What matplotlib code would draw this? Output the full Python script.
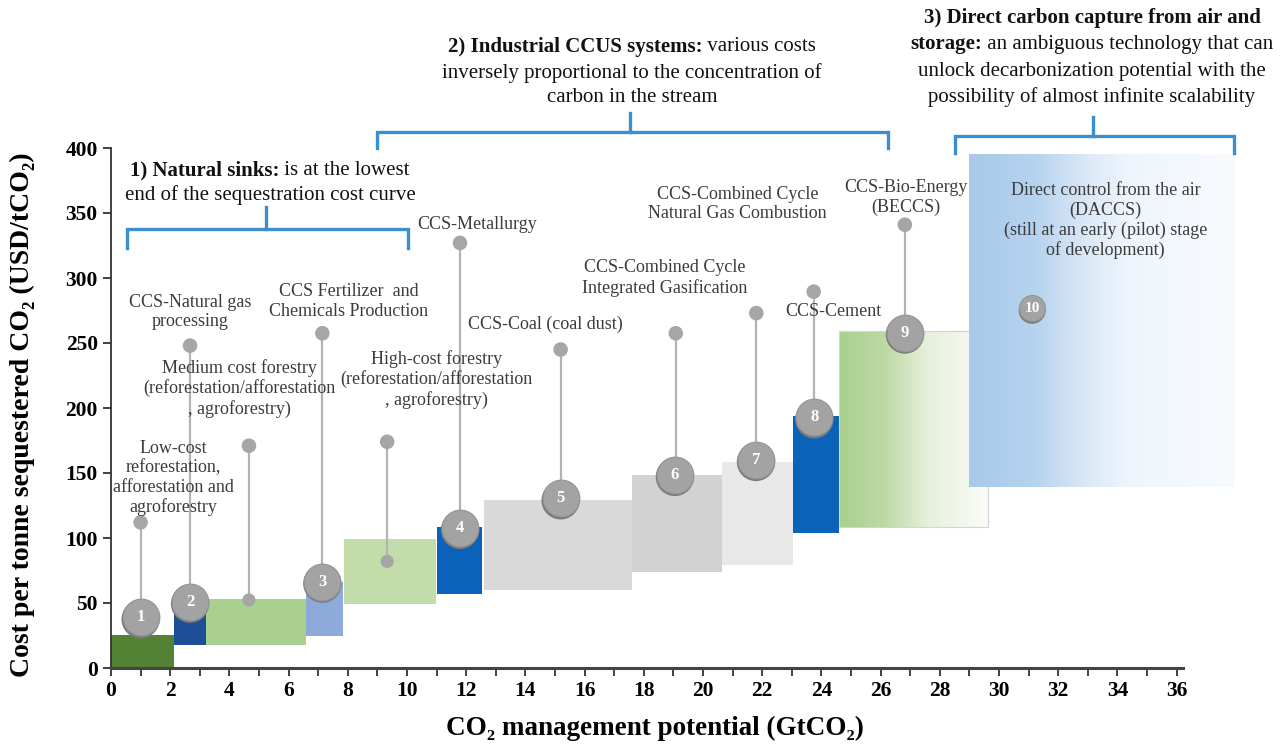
import matplotlib
matplotlib.use("Agg")
import matplotlib.pyplot as plt
import numpy as np
from matplotlib.colors import LinearSegmentedColormap
from matplotlib.patches import Rectangle
from matplotlib.ticker import FixedLocator
from matplotlib.transforms import offset_copy

plt.rcParams["font.family"] = ["Liberation Serif", "DejaVu Serif"]

# cost-curve blocks: potential range (GtCO2) and cost range (USD/tCO2)
block_x0 = [0.0, 2.13, 3.2, 6.59, 7.87, 11.0, 12.6, 17.6, 20.63, 23.03, 24.6, 29.0]
block_x1 = [2.13, 3.2, 6.59, 7.84, 10.98, 12.54, 17.6, 20.63, 23.05, 24.6, 29.63, 37.97]
block_lo = [0, 17.7, 17.7, 24.6, 49, 57, 60, 74, 79, 103.6, 108.5, 139]
block_hi = [25.4, 46, 53, 66, 99, 108.7, 129, 148.5, 158.7, 194, 259, 394.6]
block_col = ["#548235", "#1f4e98", "#a9d08e", "#8eaadb", "#c2dda9", "#0a63b8",
             "#d9d9d9", "#d2d2d2", "#e8e8e8", "#0a63b8", None, None]

# numbered markers
num_x = [1.0, 2.67, 7.14, 11.79, 15.19, 19.05, 21.79, 23.76, 26.82, 31.12]
num_y = [39, 51, 66.4, 107.7, 130.5, 148.5, 160, 192.8, 258, 276.7]

# leader stems (x, bottom, top)
stem_x = [1.0, 2.67, 4.66, 7.14, 9.33, 11.79, 15.19, 19.08, 21.8, 23.74, 26.82]
stem_lo = [39, 51, 52.3, 66.4, 82, 107.7, 130.5, 148.5, 160, 192.8, 258]
stem_hi = [112, 248, 171, 257.5, 174, 327, 245, 257.5, 273, 289.5, 341]
stem_lowdot = [False, False, True, False, True, False, False, False, False, False, False]

labels = [
    "Low-cost\nreforestation,\nafforestation and\nagroforestry",
    "CCS-Natural gas\nprocessing",
    "Medium cost forestry\n(reforestation/afforestation\n, agroforestry)",
    "CCS Fertilizer  and\nChemicals Production",
    "High-cost forestry\n(reforestation/afforestation\n, agroforestry)",
    "CCS-Metallurgy",
    "CCS-Coal (coal dust)",
    "CCS-Combined Cycle\nIntegrated Gasification",
    "CCS-Combined Cycle\nNatural Gas Combustion",
    "CCS-Cement",
    "CCS-Bio-Energy\n(BECCS)",
    "Direct control from the air\n(DACCS)\n(still at an early (pilot) stage\nof development)",
]
label_x = [2.1, 2.67, 4.35, 8.04, 11.0, 12.36, 14.69, 18.72, 21.17, 24.4, 26.85, 33.6]
label_y = [146, 274, 215, 282, 222, 341.5, 264.6, 300, 357, 274, 362, 344]

# group headers: list of lines, each line = list of (text, weight)
header_lines = [
    [[("1) Natural sinks:", "bold"), (" is at the lowest", "normal")],
     [("end of the sequestration cost curve", "normal")]],
    [[("2) Industrial CCUS systems:", "bold"), (" various costs", "normal")],
     [("inversely proportional to the concentration of", "normal")],
     [("carbon in the stream", "normal")]],
    [[("3) Direct carbon capture from air and", "bold")],
     [("storage:", "bold"), (" an ambiguous technology that can", "normal")],
     [("unlock decarbonization potential with the", "normal")],
     [("possibility of almost infinite scalability", "normal")]],
]
header_x = [5.37, 17.6, 33.14]
header_y = [[383, 363.8], [477.7, 457.7, 438.5], [500, 480, 459.2, 439.2]]

# brackets: left, right, level, end drop, centre, centre top
br_x0 = [0.54, 8.99, 28.51]
br_x1 = [10.03, 26.25, 37.94]
br_y = [337.7, 412.3, 409.2]
br_end = [323, 400, 396]
br_mid = [5.24, 17.53, 33.18]
br_top = [354.6, 427, 423.8]

fig = plt.figure(figsize=(12.87, 7.44), dpi=100)
ax = fig.add_axes([111 / 1287, 76 / 744, 1176 / 1287, 668 / 744])
ax.patch.set_alpha(0)

# plain blocks
for i, c in enumerate(block_col):
    if c is None:
        continue
    ax.add_patch(Rectangle((block_x0[i], block_lo[i]), block_x1[i] - block_x0[i],
                           block_hi[i] - block_lo[i], facecolor=c, edgecolor="none", zorder=2))

# gradient blocks (BECCS green, DACCS blue)
grad = np.linspace(0, 1, 256).reshape(1, -1)
green_cm = LinearSegmentedColormap.from_list(
    "g", [(0, "#a9d08e"), (0.3, "#bcd9a4"), (0.6, "#e6f0dc"), (1, "#fafcf7")])
blue_cm = LinearSegmentedColormap.from_list(
    "b", [(0, "#a9c9ea"), (0.25, "#b6d3ef"), (0.45, "#dce9f7"), (0.6, "#eef5fc"), (1, "#f8fbfe")])
for i, cm, z in [(10, green_cm, 2), (11, blue_cm, 2.5)]:
    ax.imshow(grad, cmap=cm, aspect="auto", zorder=z, interpolation="bicubic",
              extent=(block_x0[i], block_x1[i], block_lo[i], block_hi[i]), clip_on=False)
ax.add_patch(Rectangle((block_x0[10], block_lo[10]), block_x1[10] - block_x0[10],
                       block_hi[10] - block_lo[10], facecolor="none", edgecolor="#d4d4d4",
                       linewidth=0.8, zorder=2.1))
ax.set_xlim(0, 1176 / 29.6)
ax.set_ylim(0, 668 / 1.3)

# stems and dots
for i in range(len(stem_x)):
    ax.plot([stem_x[i], stem_x[i]], [stem_lo[i], stem_hi[i]], color="#b3b3b3", lw=1.6, zorder=3)
    ax.scatter(stem_x[i], stem_hi[i], s=110, color="#a6a6a6", edgecolor="none", zorder=3.5)
    if stem_lowdot[i]:
        ax.scatter(stem_x[i], stem_lo[i], s=90, color="#a6a6a6", edgecolor="none", zorder=3.5)

# numbered circles
for i in range(len(num_x)):
    s = 380 if i == 9 else 760
    ax.scatter(num_x[i], num_y[i] - 1.5, s=s, color="#7a7a7a", edgecolor="none", zorder=4)
    ax.scatter(num_x[i], num_y[i], s=s * 0.92, color="#a3a3a3", edgecolor="#959595",
               linewidth=0.8, zorder=4.2)
    ax.text(num_x[i], num_y[i], str(i + 1), color="white", fontsize=11 if i == 9 else 12,
            fontweight="bold", ha="center", va="center", zorder=5)

# item labels
for i, t in enumerate(labels):
    ax.text(label_x[i], label_y[i], t, fontsize=13, color="#3c3c3c", ha="center",
            va="center", linespacing=1.18, zorder=6)

# brackets
for i in range(3):
    ax.plot([br_x0[i], br_x0[i], br_x1[i], br_x1[i]], [br_end[i], br_y[i], br_y[i], br_end[i]],
            color="#3a8fd0", lw=2.4, clip_on=False, zorder=6, solid_joinstyle="miter")
    ax.plot([br_mid[i], br_mid[i]], [br_y[i], br_top[i]], color="#3a8fd0", lw=2.4,
            clip_on=False, zorder=6)

# headers with mixed bold / normal runs, each line centred
renderer = fig.canvas.get_renderer()
for g in range(3):
    for line, y in zip(header_lines[g], header_y[g]):
        runs = [ax.text(header_x[g], y, s, fontsize=15, fontweight=w, ha="left", va="center",
                        color="#111111", clip_on=False, zorder=6) for s, w in line]
        widths = [r.get_window_extent(renderer).width for r in runs]
        shift = -sum(widths) / 2
        for r, wd in zip(runs, widths):
            r.set_transform(offset_copy(ax.transData, fig=fig, x=shift, y=0, units="dots"))
            shift += wd

# axes styling
for side in ["top", "right"]:
    ax.spines[side].set_visible(False)
ax.spines["left"].set_bounds(0, 400)
ax.spines["bottom"].set_bounds(0, 36.2)
ax.spines["left"].set_color("#333333")
ax.spines["bottom"].set_color("#444444")
ax.spines["left"].set_linewidth(1.3)
ax.spines["bottom"].set_linewidth(2.2)
ax.spines["left"].set_zorder(7)
ax.spines["bottom"].set_zorder(7)
ax.set_yticks(np.arange(0, 401, 50))
ax.set_xticks(np.arange(0, 37, 2))
ax.xaxis.set_minor_locator(FixedLocator(np.arange(1, 36, 2)))
ax.tick_params(axis="both", which="both", direction="out", length=6, width=1.3,
               color="#333333", labelsize=15.5)
for lab in ax.get_xticklabels() + ax.get_yticklabels():
    lab.set_fontweight("bold")

fig.text(22 / 1287, 1 - 415 / 744, "Cost per tonne sequestered CO₂ (USD/tCO₂)", rotation=90,
         fontsize=20, fontweight="bold", ha="center", va="center")
fig.text(655 / 1287, 1 - 728 / 744, "CO₂ management potential (GtCO₂)", fontsize=19.5,
         fontweight="bold", ha="center", va="center")

fig.savefig("out.png", dpi=100)
